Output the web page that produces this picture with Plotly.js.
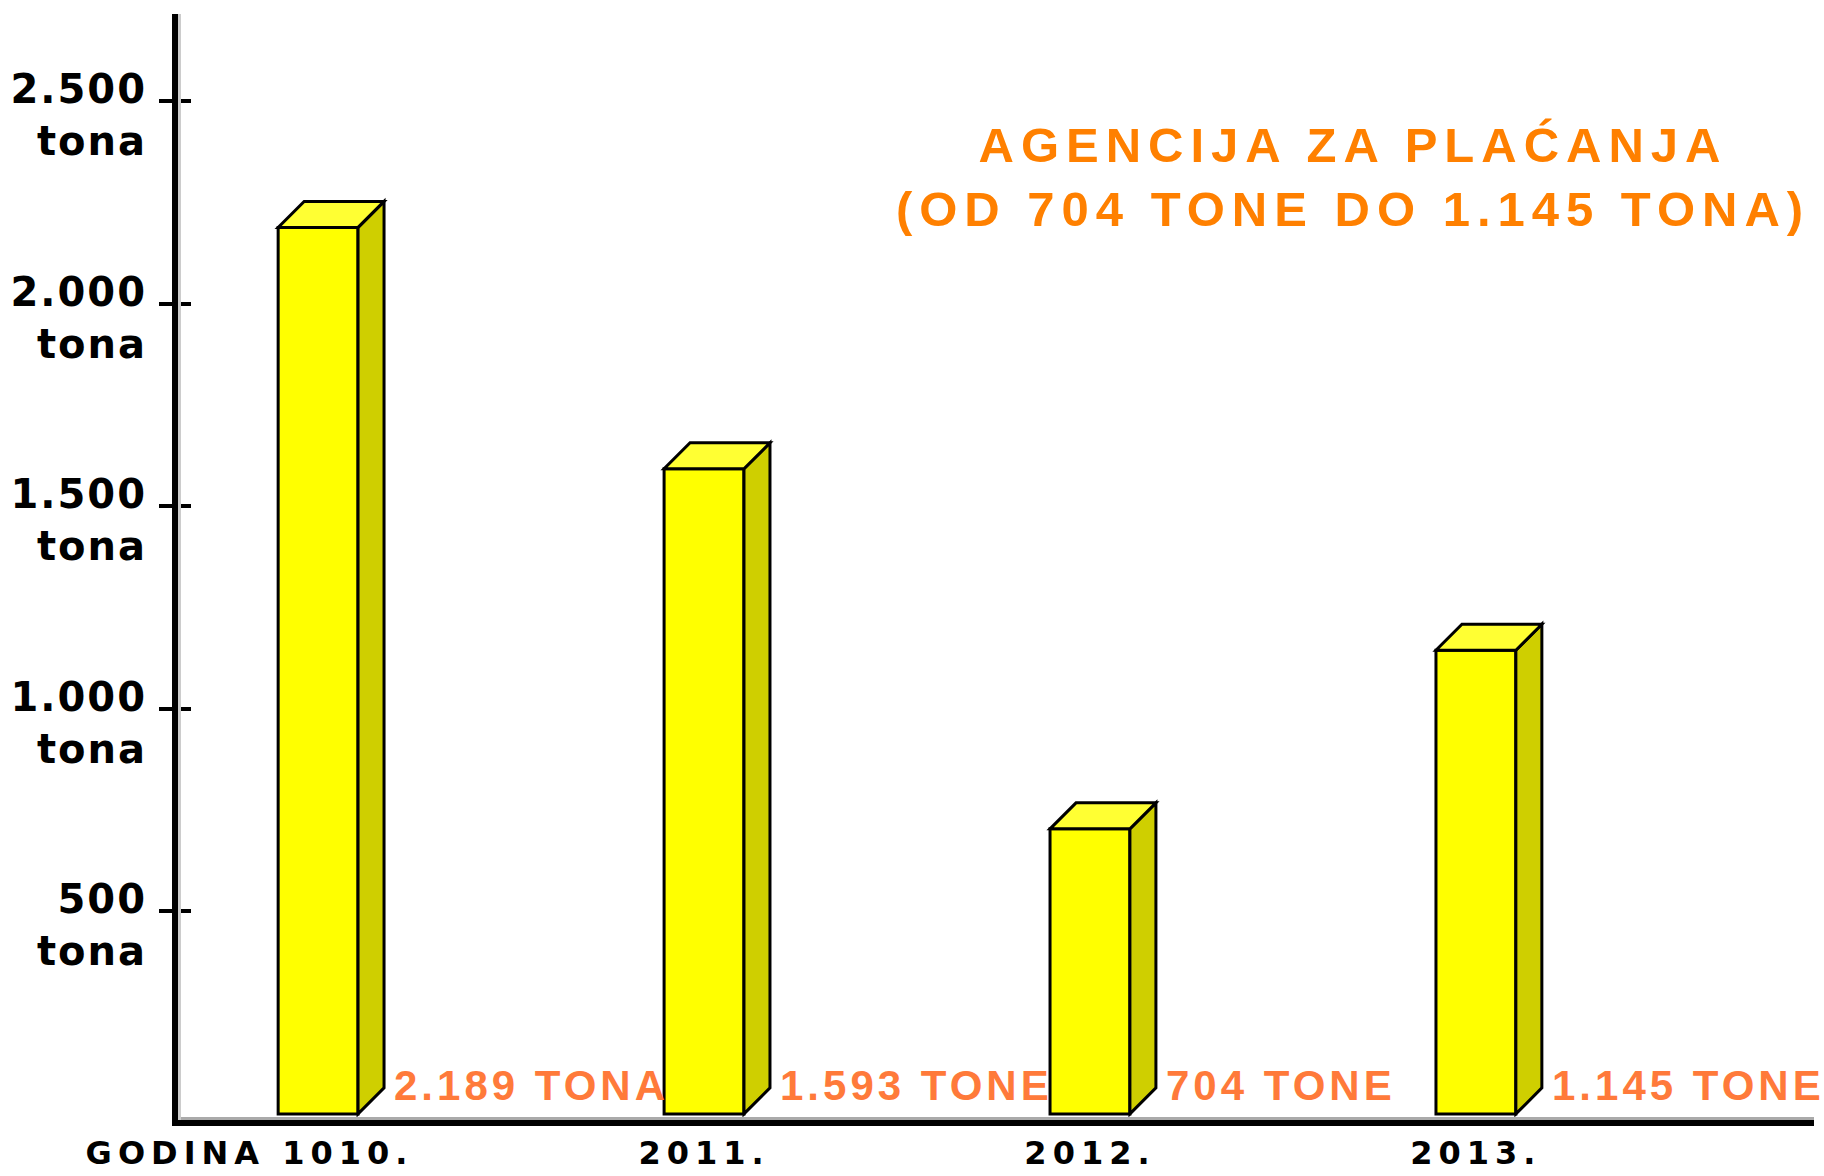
<!DOCTYPE html>
<html>
<head>
<meta charset="utf-8">
<script src="https://cdn.plot.ly/plotly-3.0.1.min.js"></script>
<style>
  html, body { margin: 0; padding: 0; background: #ffffff; }
  #chart { width: 1824px; height: 1176px; }
  .xtick text { letter-spacing: 6px; }
  .ytick text { letter-spacing: 2px; }
  .annotation-text { letter-spacing: 4px; }
  .gtitle { letter-spacing: 7px; }
</style>
</head>
<body>
<div id="chart"></div>
<script>
// ---- data ----
const categories = ['GODINA 1010.', '2011.', '2012.', '2013.'];
const values = [2189, 1593, 704, 1145];
const valueLabels = ['2.189 TONA', '1.593 TONE', '704 TONE', '1.145 TONE'];
const yTickValues = [500, 1000, 1500, 2000, 2500];
const yTickLabels = ['500<br>tona', '1.000<br>tona', '1.500<br>tona', '2.000<br>tona', '2.500<br>tona'];
const titleLines = ['AGENCIJA ZA PLAĆANJA', '(OD 704 TONE DO 1.145 TONA)'];

// ---- layout constants ----
const W = 1824, H = 1176;
const M = { l: 178, r: 10, t: 14, b: 56 };
const X_RANGE = [-0.363, 3.876];
const Y_RANGE = [-15, 2716];
const plotW = W - M.l - M.r, plotH = H - M.t - M.b;
const pxPerX = plotW / (X_RANGE[1] - X_RANGE[0]);
const pxPerY = plotH / (Y_RANGE[1] - Y_RANGE[0]);
const BAR_W = 0.207;
const DX = 26 / pxPerX, DY = 26 / pxPerY;

const xIdx = categories.map((_, i) => i);
// first label sits left of its bar in the original; pad it on the right
const xTickText = categories.map((c, i) => (i === 0 ? c + '\u00a0'.repeat(8) : c));

const front = {
  type: 'bar', x: xIdx, y: values, width: BAR_W,
  marker: { color: '#FFFF00', line: { color: '#000000', width: 3 } },
  hoverinfo: 'skip', showlegend: false
};
const ghost = {
  type: 'scatter', x: xIdx, y: values, yaxis: 'y2', mode: 'markers',
  marker: { opacity: 0 }, hoverinfo: 'skip', showlegend: false
};

const shapes = [];
xIdx.forEach((i) => {
  const v = values[i];
  const xl = i - BAR_W / 2, xr = i + BAR_W / 2;
  shapes.push({
    type: 'path', xref: 'x', yref: 'y', layer: 'above',
    path: `M${xr},0 L${xr + DX},${DY} L${xr + DX},${v + DY} L${xr},${v} Z`,
    fillcolor: '#CFCF00', line: { color: '#000000', width: 3 }
  });
  shapes.push({
    type: 'path', xref: 'x', yref: 'y', layer: 'above',
    path: `M${xl},${v} L${xr},${v} L${xr + DX},${v + DY} L${xl + DX},${v + DY} Z`,
    fillcolor: '#FFFF33', line: { color: '#000000', width: 3 }
  });
});
// light grey shadow lines next to the axes
shapes.push({ type: 'line', xref: 'paper', yref: 'paper', x0: 0, x1: 1, ysizemode: 'pixel', yanchor: 0, y0: 1.5, y1: 1.5, line: { color: '#AAAAAA', width: 3 } });
shapes.push({ type: 'line', xref: 'paper', yref: 'paper', y0: 0, y1: 1, xsizemode: 'pixel', xanchor: 0, x0: 1.5, x1: 1.5, line: { color: '#CCCCCC', width: 3 } });

const annotations = xIdx.map((i) => ({
  x: i + BAR_W / 2, y: 0, xref: 'x', yref: 'y',
  xanchor: 'left', yanchor: 'middle', xshift: 34, yshift: 28,
  text: valueLabels[i], showarrow: false,
  font: { family: 'Liberation Sans, Arial, sans-serif', size: 42, color: '#FF7A3A', weight: 'bold' }
}));

const layout = {
  width: W, height: H, margin: M,
  paper_bgcolor: '#ffffff', plot_bgcolor: '#ffffff',
  showlegend: false,
  title: {
    text: titleLines.join('<br>'),
    x: 1353 / W, xref: 'container', xanchor: 'center',
    y: 1 - 162 / H, yref: 'container', yanchor: 'top',
    font: { family: 'Liberation Sans, Arial, sans-serif', size: 49, color: '#FF8000', weight: 'bold' }
  },
  xaxis: {
    range: X_RANGE, tickmode: 'array', tickvals: xIdx, ticktext: xTickText,
    showline: true, linecolor: '#000000', linewidth: 6, showgrid: false, zeroline: false,
    ticks: '', ticklabelstandoff: 0,
    tickfont: { family: 'DejaVu Sans, sans-serif', size: 32, color: '#000000', weight: 'bold' }
  },
  yaxis: {
    range: Y_RANGE, tickmode: 'array', tickvals: yTickValues, ticktext: yTickLabels,
    showline: true, linecolor: '#000000', linewidth: 6, showgrid: false, zeroline: false,
    ticks: 'outside', ticklen: 13, tickwidth: 4, tickcolor: '#000000', ticklabelstandoff: 4,
    ticklabelshift: 14,
    tickfont: { family: 'DejaVu Sans, sans-serif', size: 40, color: '#000000', weight: 'bold' }
  },
  yaxis2: {
    range: Y_RANGE, overlaying: 'y', side: 'left', tickmode: 'array', tickvals: yTickValues,
    showticklabels: false, ticks: 'inside', ticklen: 13, tickwidth: 4, tickcolor: '#000000',
    showline: false, showgrid: false, zeroline: false
  },
  bargap: 0,
  shapes: shapes,
  annotations: annotations
};

Plotly.newPlot('chart', [front, ghost], layout, { displayModeBar: false, staticPlot: true });
</script>
</body>
</html>
